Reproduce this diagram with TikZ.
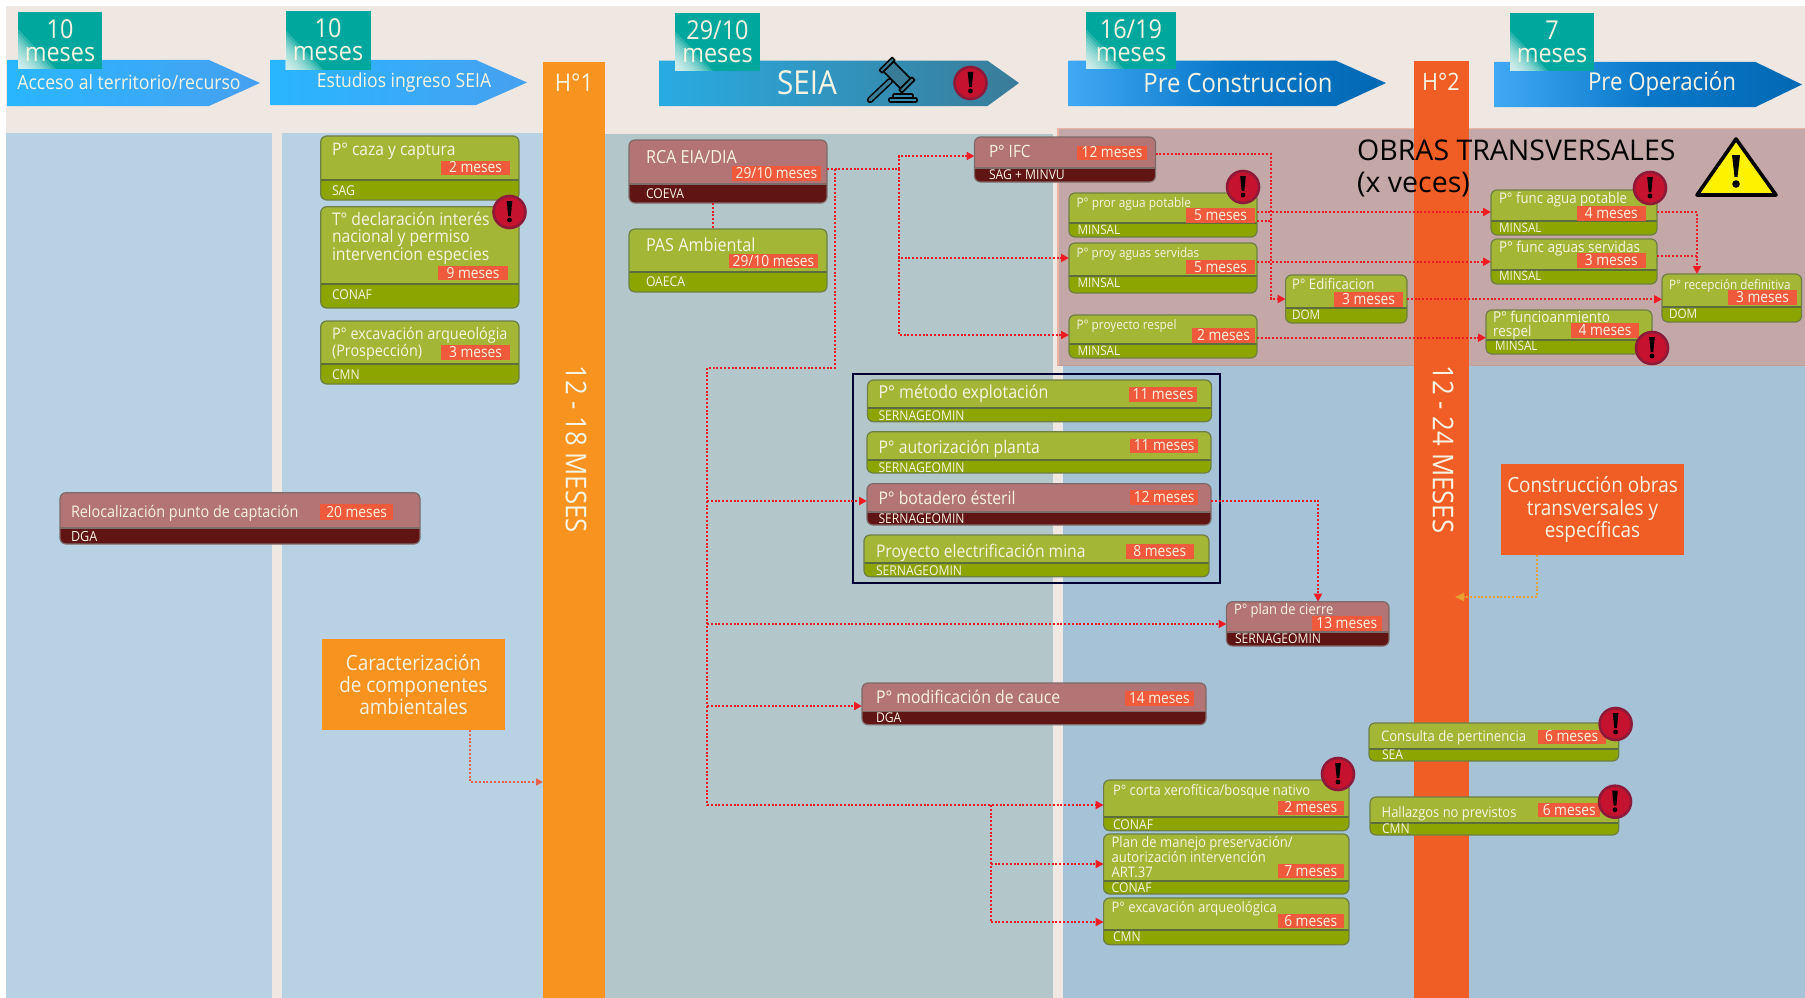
\documentclass[tikz,border=0pt]{standalone}
\usepackage{fontspec}
\setmainfont{Open Sans}[FakeStretch=0.9]
\newfontfamily\widefont{Open Sans}
\usetikzlibrary{arrows.meta}
\definecolor{beige}{HTML}{EFE8E2}
\definecolor{panelA}{HTML}{B8D2E4}
\definecolor{panelB}{HTML}{B3C7CB}
\definecolor{panelC}{HTML}{A5C2D6}
\definecolor{pinkp}{HTML}{C4A8A8}
\definecolor{pinke}{HTML}{EBB5A5}
\definecolor{barA}{HTML}{F7931E}
\definecolor{barB}{HTML}{F15E25}
\definecolor{greenT}{HTML}{A3B635}
\definecolor{greenB}{HTML}{8CA500}
\definecolor{greenE}{HTML}{6E7F45}
\definecolor{redT}{HTML}{B27474}
\definecolor{redB}{HTML}{601414}
\definecolor{redE}{HTML}{7F6A6A}
\definecolor{tagc}{HTML}{EF5A3C}
\definecolor{bteal}{HTML}{00A79D}
\definecolor{cream}{HTML}{F7F3E3}
\definecolor{alertc}{HTML}{C4122F}
\definecolor{alerte}{HTML}{8E1A3A}
\definecolor{linkr}{HTML}{ED1C24}
\definecolor{linko}{HTML}{E8604A}
\definecolor{linky}{HTML}{E8A033}
\definecolor{seiamid}{HTML}{3A7C98}
\newcounter{lblc}
\tikzset{
  x=1pt,y=-1pt,
  gtop/.style={fill=greenT},gbot/.style={fill=greenB},gedge/.style={draw=greenE,line width=1.2pt},gdiv/.style={draw=greenE!85!black,line width=1.2pt},
  rtop/.style={fill=redT},rbot/.style={fill=redB},redge/.style={draw=redE,line width=1.2pt},rdiv/.style={draw=redE,line width=1.2pt},
  pnode/.style={rectangle,rounded corners=6pt,inner sep=0pt,outer sep=0pt},
  lbltext/.style={inner sep=0pt,outer sep=0pt,text=cream},
  link/.style={draw=linkr,line width=2pt,dash pattern=on 2pt off 1.8pt,-{Triangle[length=8pt,width=8pt,fill=linkr]}},
  linkplain/.style={draw=linkr,line width=2pt,dash pattern=on 2pt off 1.8pt},
  bigbox/.style={rectangle,inner sep=0pt,outer sep=0pt,text=cream,align=center},
}
\newcommand{\pbox}[7]{%
  \pgfmathsetmacro\pbw{#4-#2}\pgfmathsetmacro\pbh{#5-#3}%
  \node[pnode,#7top,minimum width=\pbw pt,minimum height=\pbh pt] (#1) at ({(#2+#4)/2},{(#3+#5)/2}) {};
  \begin{scope}
    \clip[rounded corners=6pt] (#2,#3) rectangle (#4,#5);
    \fill[#7bot] (#2,#6) rectangle (#4,#5);
    \draw[#7div] (#2,#6) -- (#4,#6);
  \end{scope}
  \draw[#7edge,rounded corners=6pt] (#2,#3) rectangle (#4,#5);
}
\newcommand{\lbl}[4]{\stepcounter{lblc}%
  \node[lbltext,anchor=west] (l\thelblc) at (#1,#2) {\fontsize{#3}{#3}\selectfont\rule{0pt}{0.88em}\rule[-0.18em]{0pt}{0.18em}#4};}
\newcommand{\ttag}[5]{\stepcounter{lblc}%
  \pgfmathsetmacro\pbw{#3-#1}\pgfmathsetmacro\pbh{#4-#2}%
  \node[fill=tagc,text=cream,inner sep=0pt,outer sep=0pt,minimum width=\pbw pt,minimum height=\pbh pt] (l\thelblc) at ({(#1+#3)/2},{(#2+#4)/2}) {\fontsize{15.3}{15.3}\selectfont\rule{0pt}{0.8em}\rule[-0.14em]{0pt}{0.14em}#5};}
\newcommand{\alertmark}[2]{\stepcounter{lblc}%
  \node[circle,fill=alertc,draw=alerte,line width=2.6pt,minimum size=32pt,inner sep=0pt] (l\thelblc) at (#1,#2) {};
  \fill[black] ({#1-2.8},{#2-11}) -- ({#1+2.8},{#2-11}) -- ({#1+1.3},{#2+4}) -- ({#1-1.3},{#2+4}) -- cycle;
  \fill[black] (#1,{#2+8}) circle (2.4pt);}
\newcommand{\badge}[7]{%
  \fill[bteal] (#2,#3) rectangle (#4,#5);
  \foreach \fs in {40,36,32,28,24,20,16,12,8}{%
    \fill[white,opacity=0.17] (#2,#5) -- ({#2+\fs*0.95},#5) -- (#2,{#5-\fs}) -- cycle;
  }
  \node[text=cream,inner sep=0pt,align=center] (#1a) at ({(#2+#4)/2},{#3+17}) {\fontsize{26}{26}\selectfont #6};
  \node[text=cream,inner sep=0pt,align=center] (#1b) at ({(#2+#4)/2},{#3+42.5}) {\fontsize{26}{26}\selectfont #7};
}
\begin{document}
\begin{tikzpicture}
\useasboundingbox (0,0) rectangle (1805,998);
\fill[white] (0,0) rectangle (1805,998);
\fill[beige] (6,6) rectangle (1805,998);
\fill[panelA] (6,133) rectangle (272,998);
\fill[panelA] (281.5,133) rectangle (543,998);
\fill[panelB] (605,134) rectangle (1053,998);
\fill[panelC] (1063,134) rectangle (1805,998);
\fill[pinkp] (1057,127.5) rectangle (1805,366);
\draw[pinke,line width=1.6pt] (1805,128.5) -- (1057.8,128.5) -- (1057.8,365.5);
\draw[draw=pinke!60!gray,line width=1pt] (1057.8,365.8) -- (1805,365.8);

% stage arrows
\shade[left color={rgb,255:red,41;green,182;blue,255},right color={rgb,255:red,70;green,160;blue,240}] (7,60) -- (209,60) -- (260,83) -- (209,106) -- (7,106) -- cycle;
\shade[left color={rgb,255:red,41;green,182;blue,255},right color={rgb,255:red,70;green,160;blue,240}] (270.5,60) -- (476,60) -- (527,82.5) -- (476,105) -- (270.5,105) -- cycle;
\shade[left color={rgb,255:red,41;green,171;blue,226},middle color=seiamid,right color=seiamid] (659,60.7) -- (987.5,60.7) -- (1019,83) -- (987.5,106) -- (659,106) -- cycle;
\shade[left color={rgb,255:red,63;green,169;blue,245},right color={rgb,255:red,0;green,105;blue,180},middle color={rgb,255:red,10;green,120;blue,200}] (1068.6,60.7) -- (1336,60.7) -- (1386,83) -- (1336,106) -- (1068.6,106) -- cycle;
\shade[left color={rgb,255:red,63;green,169;blue,245},right color={rgb,255:red,0;green,105;blue,180},middle color={rgb,255:red,10;green,120;blue,200}] (1494,62) -- (1755.5,62) -- (1802,84.5) -- (1755.5,107) -- (1494,107) -- cycle;

\node[text=cream,inner sep=0pt] (a1) at (129,82.5) {\fontsize{19.6}{19.6}\selectfont Acceso al territorio/recurso};
\node[text=cream,inner sep=0pt] (a2) at (404,82) {\fontsize{19.5}{19.5}\selectfont Estudios ingreso SEIA};
\node[text=cream,inner sep=0pt] (a3) at (807,83) {\fontsize{33}{33}\selectfont SEIA};
\node[text=cream,inner sep=0pt] (a4) at (1238,83) {\fontsize{26.5}{26.5}\selectfont Pre Construccion};
\node[text=cream,inner sep=0pt] (a5) at (1662,84) {\fontsize{24.7}{24.7}\selectfont Pre Operación};

\badge{b1}{18}{12}{102}{69}{10}{meses}
\badge{b2}{285.5}{11}{370.5}{70}{10}{meses}
\badge{b3}{675}{13.3}{760}{71}{29/10}{meses}
\badge{b4}{1086}{12}{1176}{69}{16/19}{meses}
\badge{b5}{1510}{13}{1594}{71}{7}{meses}

% gavel
\begin{scope}[line width=1.6pt,draw=black,line join=round]
  \draw[line width=6.4pt,line cap=round] (890,81) -- (870,100);
  \draw[line width=3.4pt,line cap=round,draw=seiamid] (890,81) -- (870,100);
  \draw[fill=seiamid,rotate around={-45:(897,75)}] (885,68) rectangle (909,82);
  \draw[fill=seiamid,rotate around={-45:(897,75)}] (881,66) rectangle (885,84);
  \draw[fill=seiamid,rotate around={-45:(897,75)}] (909,66) rectangle (913,84);
  \draw[rounded corners=1pt] (893,94) rectangle (913,98);
  \draw[rounded corners=1pt] (889,98) rectangle (917,102);
\end{scope}
\alertmark{970.5}{83}

% milestone bars
\node[fill=barA,minimum width=62pt,minimum height=936pt,inner sep=0pt,outer sep=0pt] (h1) at (574,530) {};
\node[fill=barB,minimum width=55pt,minimum height=937.3pt,inner sep=0pt,outer sep=0pt] (h2) at (1441.5,529.35) {};
\node[text=cream,inner sep=0pt] (h1t) at (574,83) {\fontsize{24.5}{24.5}\selectfont H°1};
\node[text=cream,inner sep=0pt] (h2t) at (1441,82) {\fontsize{24}{24}\selectfont H°2};
\node[text=cream,inner sep=0pt,rotate=-90] (h1m) at (576,449) {\fontsize{28.6}{28.6}\selectfont 12 - 18 MESES};
\node[text=cream,inner sep=0pt,rotate=-90] (h2m) at (1443,449.5) {\fontsize{28.6}{28.6}\selectfont 12 - 24 MESES};

% obras title
\node[inner sep=0pt,anchor=west,text=black] (ob1) at (1357,150) {\widefont\fontsize{28.5}{28.5}\selectfont OBRAS TRANSVERSALES};
\node[inner sep=0pt,anchor=west,text=black] (ob2) at (1357,185) {\widefont\fontsize{28.5}{28.5}\selectfont (x veces)};
\draw[fill=yellow,draw=black,line width=3.6pt,line join=round] (1736,139) -- (1776,195) -- (1697,195) -- cycle;
\fill[black] (1732,155) -- (1740,155) -- (1737.5,177) -- (1734.5,177) -- cycle;
\fill[black] (1736,184) circle (3.8pt);

% orange boxes
\node[bigbox,fill=barA,minimum width=183pt,minimum height=91.3pt,font=\fontsize{21}{22}\selectfont] (carac) at (413.5,684.3) {Caracterización\\de componentes\\ambientales};
\node[bigbox,fill=barB,minimum width=183pt,minimum height=91.3pt,font=\fontsize{21}{22.5}\selectfont] (constr) at (1592.5,509.6) {Construcción obras\\transversales y\\específicas};

% group frame
\node[draw=black!80!blue,line width=1.3pt,inner sep=0pt,outer sep=0pt,minimum width=367pt,minimum height=209pt] (grp) at (1036.5,478.5) {};

% process boxes
\pbox{caza}{320.7}{136}{519}{200}{180}{g}
\lbl{332}{150}{17.3}{P° caza y captura}
\ttag{441}{161}{510}{174.5}{2 meses}
\lbl{332}{190.5}{13.5}{SAG}

\pbox{tdecl}{320.7}{206.7}{519}{308}{284}{g}
\lbl{332}{219}{17.4}{T° declaración interés}
\lbl{332}{237}{17.4}{nacional y permiso}
\lbl{332}{255}{17.4}{intervencion especies}
\ttag{438}{266.5}{508}{280}{9 meses}
\lbl{332}{295}{13.5}{CONAF}
\alertmark{509.5}{212}

\pbox{excA}{320.7}{321}{519}{384}{364}{g}
\lbl{332}{334.5}{16}{P° excavación arqueológia}
\lbl{332}{351}{16}{(Prospección)}
\ttag{441}{346}{510}{359}{3 meses}
\lbl{332}{375}{13.5}{CMN}

\pbox{reloc}{60}{492.7}{420}{544}{528}{r}
\lbl{71}{512}{16}{Relocalización punto de captación}
\ttag{320}{504}{393.4}{520}{20 meses}
\lbl{71}{536.5}{14}{DGA}

\pbox{rca}{629}{140}{827}{203}{184}{r}
\lbl{646}{157}{18}{RCA EIA/DIA}
\ttag{732}{167}{821}{180}{29/10 meses}
\lbl{646}{194}{13.5}{COEVA}

\pbox{pas}{629}{229}{827}{292}{272}{g}
\lbl{646}{245}{18}{PAS Ambiental}
\ttag{729}{254}{818}{268}{29/10 meses}
\lbl{646}{282}{13.5}{OAECA}

\pbox{ifc}{974.5}{137}{1155.5}{182}{168}{r}
\lbl{989}{151.5}{17}{P° IFC}
\ttag{1077}{146}{1147}{159.5}{12 meses}
\lbl{989}{175}{13.5}{SAG + MINVU}

\pbox{pror}{1069}{193}{1257}{237}{223}{g}
\lbl{1076.5}{203}{13.2}{P° pror agua potable}
\ttag{1186}{209}{1255}{222}{5 meses}
\lbl{1077.6}{230}{13}{MINSAL}
\alertmark{1243}{187}

\pbox{proy}{1069}{243}{1257}{293}{276}{g}
\lbl{1076.5}{253}{13}{P° proy aguas servidas}
\ttag{1186}{260}{1255}{274}{5 meses}
\lbl{1077.6}{283}{13}{MINSAL}

\pbox{respA}{1069}{315}{1257}{358}{344}{g}
\lbl{1076.5}{325}{13.1}{P° proyecto respel}
\ttag{1192}{329}{1255}{342}{2 meses}
\lbl{1077.6}{351}{13}{MINSAL}

\pbox{edif}{1285.6}{275}{1407}{323}{308}{g}
\lbl{1292}{284}{14.6}{P° Edificacion}
\ttag{1334}{293}{1403}{306}{3 meses}
\lbl{1292}{315}{13}{DOM}

\pbox{fagua}{1491}{190}{1657}{235}{221}{g}
\lbl{1499}{199}{14.7}{P° func agua potable}
\ttag{1577}{207}{1645.6}{220}{4 meses}
\lbl{1499}{228}{13}{MINSAL}
\alertmark{1650}{188}

\pbox{fserv}{1491}{239}{1657}{284}{270}{g}
\lbl{1499}{248}{15}{P° func aguas servidas}
\ttag{1577}{254}{1645.6}{267}{3 meses}
\lbl{1499}{276}{13}{MINSAL}

\pbox{recep}{1662}{274}{1801.5}{322}{307}{g}
\lbl{1669}{285}{13}{P° recepción definitiva}
\ttag{1728}{291}{1797}{304}{3 meses}
\lbl{1669}{314}{13}{DOM}

\pbox{frespel}{1486}{310}{1652}{354}{340}{g}
\lbl{1493}{317}{15}{P° funcioanmiento}
\lbl{1493}{332}{15}{respel}
\ttag{1571}{324}{1639}{337}{4 meses}
\lbl{1495}{346}{13}{MINSAL}
\alertmark{1652}{348}

\pbox{metodo}{867.5}{380}{1211.5}{421.7}{408}{g}
\lbl{878.5}{393}{17.8}{P° método explotación}
\ttag{1129}{388}{1197}{401}{11 meses}
\lbl{878.5}{416}{13.5}{SERNAGEOMIN}

\pbox{planta}{867}{431.7}{1211}{473}{460}{g}
\lbl{878.5}{447.7}{17.5}{P° autorización planta}
\ttag{1130}{439}{1198.4}{452.7}{11 meses}
\lbl{878.5}{467.7}{13.5}{SERNAGEOMIN}

\pbox{botad}{867}{483.7}{1211}{525}{512}{r}
\lbl{878.5}{498}{17.5}{P° botadero ésteril}
\ttag{1130}{490.7}{1198.4}{504}{12 meses}
\lbl{878.5}{519}{13.5}{SERNAGEOMIN}

\pbox{electr}{864}{535}{1209}{576.7}{563}{g}
\lbl{876}{551.7}{17.4}{Proyecto electrificación mina}
\ttag{1125.6}{544.7}{1194}{558}{8 meses}
\lbl{876}{570.7}{13.5}{SERNAGEOMIN}

\pbox{cierre}{1226.5}{601.7}{1389}{646}{632}{r}
\lbl{1234}{610}{14.4}{P° plan de cierre}
\ttag{1312}{617}{1381.5}{630}{13 meses}
\lbl{1235}{639}{13.5}{SERNAGEOMIN}

\pbox{cauce}{862}{683}{1206}{724.7}{711.7}{r}
\lbl{876}{697.7}{17.6}{P° modificación de cauce}
\ttag{1125}{692}{1193.7}{705}{14 meses}
\lbl{876}{718}{13.5}{DGA}

\pbox{corta}{1103.6}{780}{1349}{830.7}{817}{g}
\lbl{1113}{791}{14.4}{P° corta xerofítica/bosque nativo}
\ttag{1277.7}{801}{1343.7}{814.7}{2 meses}
\lbl{1113}{825}{13.5}{CONAF}
\alertmark{1338}{774}

\pbox{manejo}{1103.6}{834}{1349}{894}{881}{g}
\lbl{1111.6}{843}{14.5}{Plan de manejo preservación/}
\lbl{1111.6}{857}{14.5}{autorización intervención}
\lbl{1111.6}{872.7}{14.5}{ART.37}
\ttag{1277.7}{864}{1343.7}{878}{7 meses}
\lbl{1111.6}{888}{13.5}{CONAF}

\pbox{excB}{1103.6}{898}{1349}{944.7}{930}{g}
\lbl{1111.6}{908}{14.5}{P° excavación arqueológica}
\ttag{1277.7}{914}{1343.7}{928}{6 meses}
\lbl{1113}{937}{13.5}{CMN}

\pbox{pert}{1369}{723}{1618.7}{761}{749}{g}
\lbl{1381}{736.7}{14.6}{Consulta de pertinencia}
\ttag{1537.5}{730.7}{1605.8}{743}{6 meses}
\lbl{1382}{755}{13.5}{SEA}
\alertmark{1615.6}{724}

\pbox{hall}{1370}{797}{1618.7}{835}{823}{g}
\lbl{1381.7}{812.7}{14.4}{Hallazgos no previstos}
\ttag{1538.4}{804}{1600}{816}{6 meses}
\lbl{1382}{829}{13.5}{CMN}
\alertmark{1615}{801.7}

% connector junctions
\coordinate (jA) at (898.5,169);
\coordinate (jB) at (835,169);
\coordinate (jC) at (835,367.7);
\coordinate (jD) at (707,367.7);
\coordinate (jE) at (707,805);
\coordinate (jF) at (990.7,805);
\coordinate (jG) at (990.7,922);
\coordinate (jH) at (1270.6,154);
\coordinate (jI) at (1270.6,299);
\coordinate (jJ) at (1697,212);
\coordinate (jK) at (470,782);
\coordinate (jL) at (1536.7,597);
\coordinate (jM) at (1318,500.7);

\draw[linkplain] (rca.south -| 713,0) -- (pas.north -| 713,0);
\draw[linkplain] (rca.east |- jB) -- (jA);
\draw[link] (jA) -- (jA |- 0,156) -- (ifc.west |- 0,156);
\draw[link] (jA) -- (jA |- 0,258) -- (proy.west |- 0,258);
\draw[link] (jA) -- (jA |- 0,335) -- (respA.west |- 0,335);
\draw[linkplain] (jB) -- (jC) -- (jD) -- (jE);
\draw[link] (jD |- 0,501) -- (botad.west |- 0,501);
\draw[link] (jD |- 0,624) -- (cierre.west |- 0,624);
\draw[link] (jD |- 0,706) -- (cauce.west |- 0,706);
\draw[link] (jE) -- (corta.west |- jE);
\draw[linkplain] (jF) -- (jG);
\draw[link] (jF |- 0,864) -- (manejo.west |- 0,864);
\draw[link] (jG) -- (excB.west |- jG);
\draw[link] (botad.east |- jM) -- (jM) -- (jM |- cierre.north);
\draw[link] (ifc.east |- jH) -- (jH) -- (jI) -- (edif.west |- jI);
\draw[linkplain] (pror.east |- 0,221) -- (jH |- 0,221);
\draw[link] (pror.east |- 0,212) -- (fagua.west |- 0,212);
\draw[link] (proy.east |- 0,261.7) -- (fserv.west |- 0,261.7);
\draw[link] (respA.east |- 0,337.7) -- (frespel.west |- 0,337.7);
\draw[link] (edif.east |- 0,299.3) -- (recep.west |- 0,299.3);
\draw[link] (fagua.east |- jJ) -- (jJ) -- (jJ |- recep.north);
\draw[linkplain] (fserv.east |- 0,255.7) -- (jJ |- 0,255.7);
\draw[link,draw=linko,-{Triangle[length=7pt,width=7pt,fill=linko]}] (carac.south -| jK) -- (jK) -- (h1.west |- jK);
\draw[link,draw=linky,-{Triangle[length=9pt,width=8pt,fill=linky]}] (constr.south -| jL) -- (jL) -- (1455,597);
\end{tikzpicture}
\end{document}
